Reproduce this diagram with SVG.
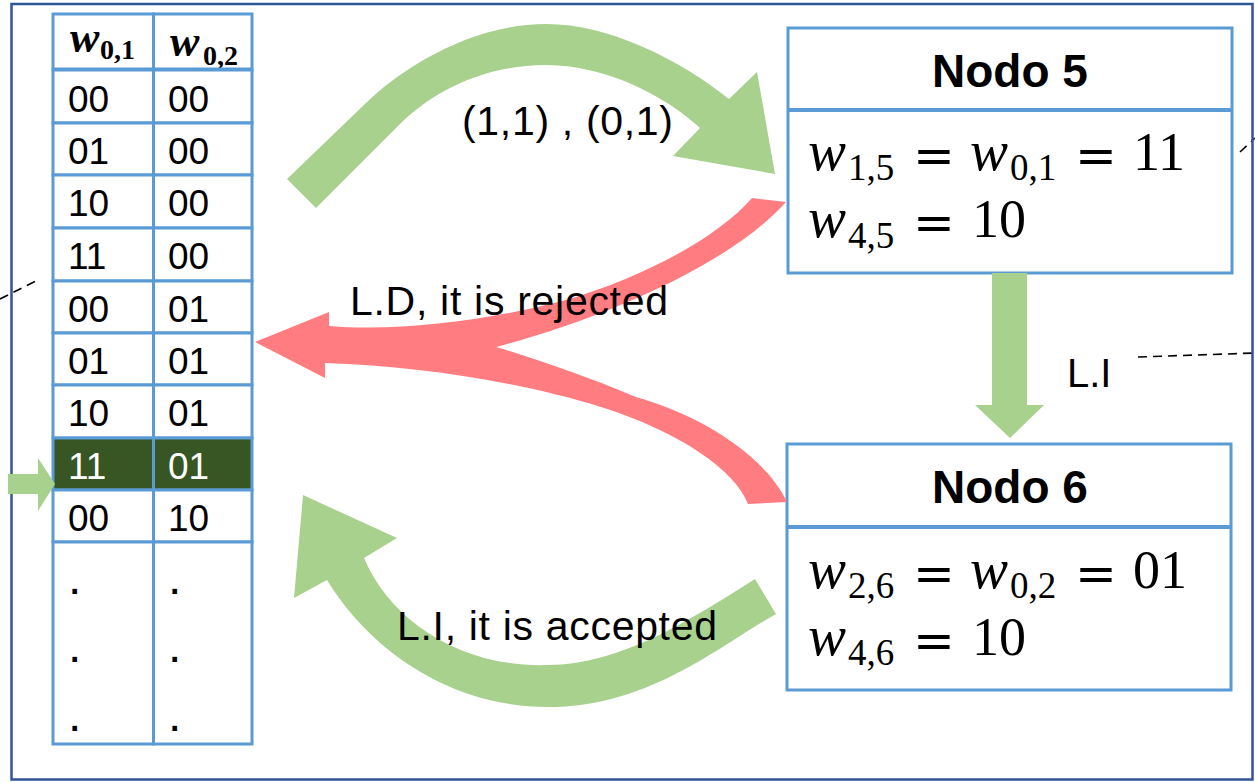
<svg xmlns="http://www.w3.org/2000/svg" width="1255" height="782" viewBox="0 0 1255 782">
<style>
.cell{fill:#fff;stroke:#5B9BD5;stroke-width:3}
.lbl{font-family:"Liberation Sans",Arial,sans-serif;fill:#000}
.row{font-family:"Liberation Sans",Arial,sans-serif;font-size:37px;fill:#000}
.wt{fill:#fff}
.title{font-family:"Liberation Sans",Arial,sans-serif;font-size:46px;font-weight:bold;text-anchor:middle}
.mi{font-family:"Liberation Serif","Times New Roman",serif;font-style:italic;font-size:57px}
.mn{font-family:"Liberation Serif","Times New Roman",serif;font-size:54px}
.ms{font-family:"Liberation Serif","Times New Roman",serif;font-size:37px}
.eq{font-family:"DejaVu Serif",serif;font-size:50px;text-anchor:middle}
.hw{font-family:"Liberation Serif","Times New Roman",serif;font-style:italic;font-weight:bold;font-size:44px}
.hs{font-family:"Liberation Serif","Times New Roman",serif;font-weight:bold;font-size:28px}
.dash{stroke:#000;stroke-width:1.6;stroke-dasharray:9 6;fill:none}
.green{fill:#A9D18E}
.red{fill:#FF7C80}
</style>
<rect x="0" y="0" width="1255" height="782" fill="#fff"/>
<line class="dash" x1="0" y1="299" x2="38" y2="280"/>
<line class="dash" x1="1240" y1="152" x2="1255" y2="138"/>
<line class="dash" x1="1138" y1="357" x2="1255" y2="353"/>
<rect x="11.5" y="4" width="1241" height="775.5" fill="none" stroke="#2F5597" stroke-width="2.5"/>

<g id="table">
  <rect class="cell" x="53" y="14" width="100.5" height="56"/>
  <rect class="cell" x="153.5" y="14" width="98.5" height="56"/>
  <text x="70" y="52" class="hw">w</text><text x="100" y="59" class="hs">0,1</text>
  <text x="170" y="56" class="hw">w</text><text x="203" y="65" class="hs">0,2</text>
  <line x1="53" y1="70" x2="252" y2="70" stroke="#5B9BD5" stroke-width="5"/>
  <rect class="cell" x="53" y="70" width="100.5" height="53"/><rect class="cell" x="153.5" y="70" width="98.5" height="53"/>
  <rect class="cell" x="53" y="123" width="100.5" height="52"/><rect class="cell" x="153.5" y="123" width="98.5" height="52"/>
  <rect class="cell" x="53" y="175" width="100.5" height="53"/><rect class="cell" x="153.5" y="175" width="98.5" height="53"/>
  <rect class="cell" x="53" y="228" width="100.5" height="53"/><rect class="cell" x="153.5" y="228" width="98.5" height="53"/>
  <rect class="cell" x="53" y="281" width="100.5" height="52"/><rect class="cell" x="153.5" y="281" width="98.5" height="52"/>
  <rect class="cell" x="53" y="333" width="100.5" height="52"/><rect class="cell" x="153.5" y="333" width="98.5" height="52"/>
  <rect class="cell" x="53" y="385" width="100.5" height="53"/><rect class="cell" x="153.5" y="385" width="98.5" height="53"/>
  <rect class="cell" x="53" y="438" width="100.5" height="52" style="fill:#375623"/><rect class="cell" x="153.5" y="438" width="98.5" height="52" style="fill:#375623"/>
  <rect class="cell" x="53" y="490" width="100.5" height="52"/><rect class="cell" x="153.5" y="490" width="98.5" height="52"/>
  <rect class="cell" x="53" y="542" width="100.5" height="202"/><rect class="cell" x="153.5" y="542" width="98.5" height="202"/>
  <text class="row" x="68" y="112">00</text><text class="row" x="168" y="112">00</text>
  <text class="row" x="68" y="164">01</text><text class="row" x="168" y="164">00</text>
  <text class="row" x="68" y="216">10</text><text class="row" x="168" y="216">00</text>
  <text class="row" x="68" y="269">11</text><text class="row" x="168" y="269">00</text>
  <text class="row" x="68" y="322">00</text><text class="row" x="168" y="322">01</text>
  <text class="row" x="68" y="374">01</text><text class="row" x="168" y="374">01</text>
  <text class="row" x="68" y="426">10</text><text class="row" x="168" y="426">01</text>
  <text class="row wt" x="68" y="479">11</text><text class="row wt" x="168" y="479">01</text>
  <text class="row" x="68" y="531">00</text><text class="row" x="168" y="531">10</text>
  <text class="row" x="68" y="594" style="font-size:48px">.</text><text class="row" x="168" y="594" style="font-size:48px">.</text>
  <text class="row" x="68" y="662" style="font-size:48px">.</text><text class="row" x="168" y="662" style="font-size:48px">.</text>
  <text class="row" x="68" y="731" style="font-size:48px">.</text><text class="row" x="168" y="731" style="font-size:48px">.</text>
</g>

<g id="nodo5">
  <rect class="cell" x="788" y="28" width="444" height="245"/>
  <line x1="788" y1="110" x2="1232" y2="110" stroke="#5B9BD5" stroke-width="4"/>
  <text class="title" x="1010" y="87">Nodo 5</text>
  <text class="mi" x="808" y="170">w</text><text class="ms" x="848" y="180">1,5</text>
  <text class="eq" x="934" y="173">=</text>
  <text class="mi" x="970" y="170">w</text><text class="ms" x="1010" y="180">0,1</text>
  <text class="eq" x="1096" y="173">=</text>
  <text class="mn" x="1133" y="170">11</text>
  <text class="mi" x="808" y="237">w</text><text class="ms" x="848" y="248">4,5</text>
  <text class="eq" x="934" y="240">=</text>
  <text class="mn" x="972" y="237">10</text>
</g>

<g id="nodo6">
  <rect class="cell" x="787" y="444" width="444" height="246"/>
  <line x1="787" y1="527" x2="1231" y2="527" stroke="#5B9BD5" stroke-width="4"/>
  <text class="title" x="1010" y="503">Nodo 6</text>
  <text class="mi" x="808" y="588">w</text><text class="ms" x="848" y="598">2,6</text>
  <text class="eq" x="934" y="591">=</text>
  <text class="mi" x="970" y="588">w</text><text class="ms" x="1010" y="598">0,2</text>
  <text class="eq" x="1096" y="591">=</text>
  <text class="mn" x="1133" y="588">01</text>
  <text class="mi" x="808" y="655">w</text><text class="ms" x="848" y="665">4,6</text>
  <text class="eq" x="934" y="658">=</text>
  <text class="mn" x="972" y="655">10</text>
</g>

<g id="connectors">
  <path class="green" d="M287,179 L366,103 C400,70 470,24 546,24 C610,24 680,60 729,99 L757,72 L775,174 L673,156 L700,128 C670,100 610,65 546,65 C480,65 430,95 401,123 L316,208 Z"/>
  <path class="red" d="M752,198 C720,235 650,275 566,300 C490,320 400,332 329,326 L329,312 L255,342 L325,378 L325,363 C420,366 520,382 601,407 C680,432 735,470 748,504 L787,502 C765,455 700,415 636,397 C590,378 540,360 496,347 C600,320 730,265 786,202 Z"/>
  <path class="green" d="M755,579 L776,614 C720,645 650,707 548,707 C450,707 370,650 327,580 L294,598 L303,495 L397,538 L364,558 C390,620 460,668 548,665 C620,665 690,620 755,579 Z"/>
  <polygon class="green" points="992,273 1027,273 1027,405 1044,405 1010,438 975,405 992,405"/>
  <polygon class="green" points="8,474 38,474 38,458 55,484 38,511 38,494 8,494"/>
</g>

<g id="labels">
  <text class="lbl" x="462" y="135" font-size="41" textLength="211">(1,1) , (0,1)</text>
  <text class="lbl" x="350" y="315" font-size="41" textLength="318">L.D, it is rejected</text>
  <text class="lbl" x="397" y="640" font-size="41" textLength="320">L.I, it is accepted</text>
  <text class="lbl" x="1067" y="387" font-size="40">L.I</text>
</g>
</svg>
